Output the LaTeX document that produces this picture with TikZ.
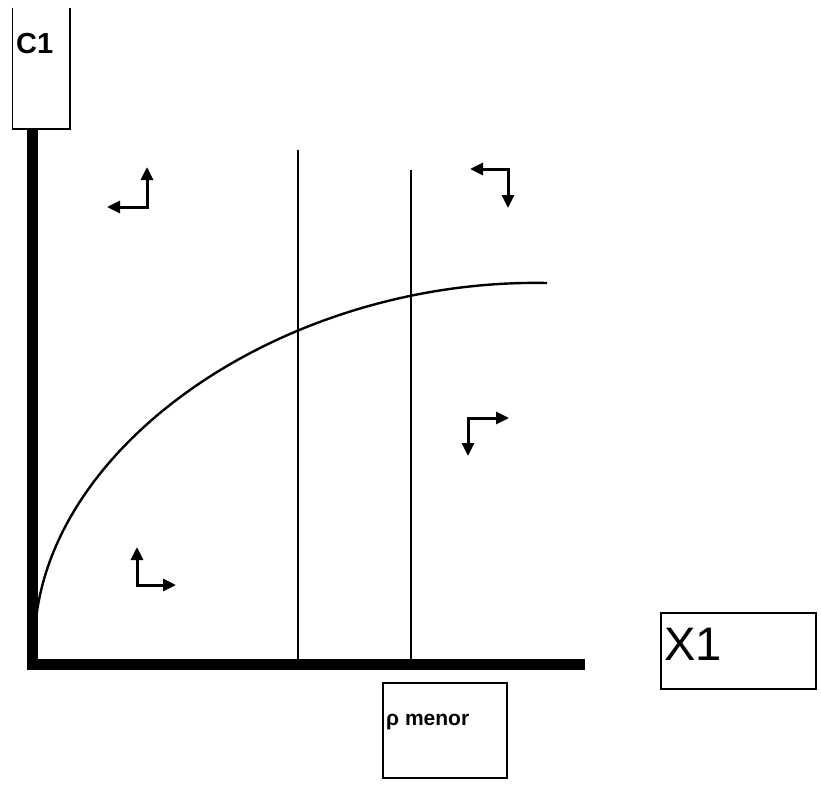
\documentclass[tikz,border=0pt]{standalone}
\usepackage{fontspec}
\setmainfont{Liberation Sans}
\usetikzlibrary{arrows.meta}
\begin{document}
\begin{tikzpicture}[x=1pt,y=-1pt,
  axis/.style={line width=11pt},
  guide/.style={line width=2.4pt},
  guidethin/.style={line width=1.2pt},
  curveline/.style={line width=2.4pt, line join=round},
  flow/.style={line width=3pt, {Triangle[length=13pt,width=12pt]}-{Triangle[length=13pt,width=12pt]}},
  labelbox/.style={draw, line width=1.3pt},
]
\useasboundingbox (0,0) rectangle (821,784);
% C1 box (open at top)
\draw[line width=1.3pt] (12.7,8) -- (12.7,129) -- (70,129) -- (70,8);
\node[anchor=base west, font=\fontsize{29}{32}\selectfont\bfseries, inner sep=0pt] (c1) at (16,53.5) {C1};
% axes
\coordinate (o) at (32.5,664);
\draw[axis] (32.5,129) -- (32.5,669.5);
\draw[axis] (27,664) -- (585,664);
% vertical guides
\draw[guide] (298,150) -- (298,660);
\draw[guidethin] (411,170) -- (411,660);
% curve
\coordinate (cs) at (35,630);
\coordinate (ce) at (547,283);
\draw[curveline] (cs) .. controls (48,440) and (290,278) .. (ce);
% flow arrows
\coordinate (a1c) at (147,207); \coordinate (a1u) at (147,167); \coordinate (a1l) at (107,207);
\draw[flow] (a1l) -- (a1c) -- (a1u);
\coordinate (a2c) at (508,169); \coordinate (a2l) at (470,169); \coordinate (a2d) at (508,208);
\draw[flow] (a2l) -- (a2c) -- (a2d);
\coordinate (a3c) at (468,418); \coordinate (a3r) at (509,418); \coordinate (a3d) at (468,456);
\draw[flow] (a3d) -- (a3c) -- (a3r);
\coordinate (a4c) at (137,585); \coordinate (a4u) at (137,547); \coordinate (a4r) at (176,585);
\draw[flow] (a4u) -- (a4c) -- (a4r);
% X1 box
\draw[labelbox] (661,613) rectangle (816,689);
\node[anchor=base west, font=\fontsize{47}{50}\selectfont, inner sep=0pt] (x1) at (664,660) {X1};
% rho menor box
\draw[labelbox] (383,683) rectangle (507,778);
\node[anchor=base west, font=\fontsize{21}{24}\selectfont\bfseries, inner sep=0pt] (rho) at (386,725) {ρ menor};
\end{tikzpicture}
\end{document}
